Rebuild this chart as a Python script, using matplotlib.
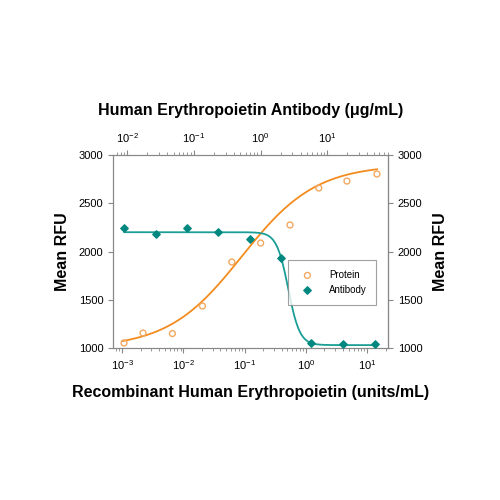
import numpy as np
import matplotlib
matplotlib.use("Agg")
import matplotlib.pyplot as plt

plt.rcParams['font.family'] = ['Liberation Sans', 'DejaVu Sans']

protein_x = [10**-2.97, 10**-2.66, 10**-2.18, 10**-1.69, 10**-1.21, 10**-0.74, 10**-0.26, 10**0.21, 10**0.67, 10**1.16]
protein_y = [1052, 1155, 1150, 1435, 1891, 2088, 2275, 2658, 2730, 2803]
antibody_x = [10**-2.04, 10**-1.57, 10**-1.10, 10**-0.63, 10**-0.16, 10**0.30, 10**0.76, 10**1.24, 10**1.72]
antibody_y = [2244, 2181, 2244, 2202, 2130, 1933, 1052, 1045, 1041]

orange = '#F28C1E'
teal = '#00877F'

fig = plt.figure(figsize=(5, 5), dpi=100)
ax = fig.add_axes([0.226, 0.304, 0.55, 0.386])
ax.set_xscale('log')
ax.set_xlim(10**-3.15, 10**1.34)
ax.set_ylim(1000, 3000)
ax2 = ax.twiny()
ax2.set_xscale('log')
ax2.set_xlim(10**-2.21, 10**1.91)

xs = np.logspace(-3, 1.16, 300)
ax.plot(xs, 1000 + (2900 - 1000) / (1 + (0.09 / xs) ** 0.72), color=orange, lw=1.3)
xt = np.logspace(-2.04, 1.72, 300)
ax2.plot(xt, 1030 + (2200 - 1030) / (1 + (xt / 2.6) ** 5), color='#1A9E96', lw=1.3)

ax.scatter(protein_x, protein_y, facecolors='none', edgecolors='#F2A860', s=18, lw=1, label='Protein', zorder=3)
ax2.scatter(antibody_x, antibody_y, marker='D', color=teal, s=14, label='Antibody', zorder=3)

h1, l1 = ax.get_legend_handles_labels()
h2, l2 = ax2.get_legend_handles_labels()
leg = ax2.legend(h1 + h2, l1 + l2, loc='lower right', bbox_to_anchor=(0.975, 0.2), fontsize=7,
                 frameon=True, fancybox=False, edgecolor='#888888', borderpad=1.0, handletextpad=1.2)
leg.get_frame().set_linewidth(0.8)

for a in (ax, ax2):
    for s in a.spines.values():
        s.set_color('#888888')
        s.set_linewidth(0.8)
    a.tick_params(which='both', colors='#888888', labelcolor='black', labelsize=8)
    a.tick_params(which='minor', length=2)
ax.set_yticks([1000, 1500, 2000, 2500, 3000])
axr = ax.secondary_yaxis('right')
axr.set_yticks([1000, 1500, 2000, 2500, 3000])
axr.tick_params(colors='#888888', labelcolor='black', labelsize=8)
axr.spines['right'].set_color('#888888')

ax.set_xlabel('Recombinant Human Erythropoietin (units/mL)', fontsize=11.5, fontweight='bold', labelpad=10)
ax2.set_xlabel('Human Erythropoietin Antibody (\u03bcg/mL)', fontsize=11.5, fontweight='bold', labelpad=12)
ax.set_ylabel('Mean RFU', fontsize=11.5, fontweight='bold', labelpad=6)
axr.set_ylabel('Mean RFU', fontsize=11.5, fontweight='bold', labelpad=8)

fig.savefig('out.png', dpi=100)
